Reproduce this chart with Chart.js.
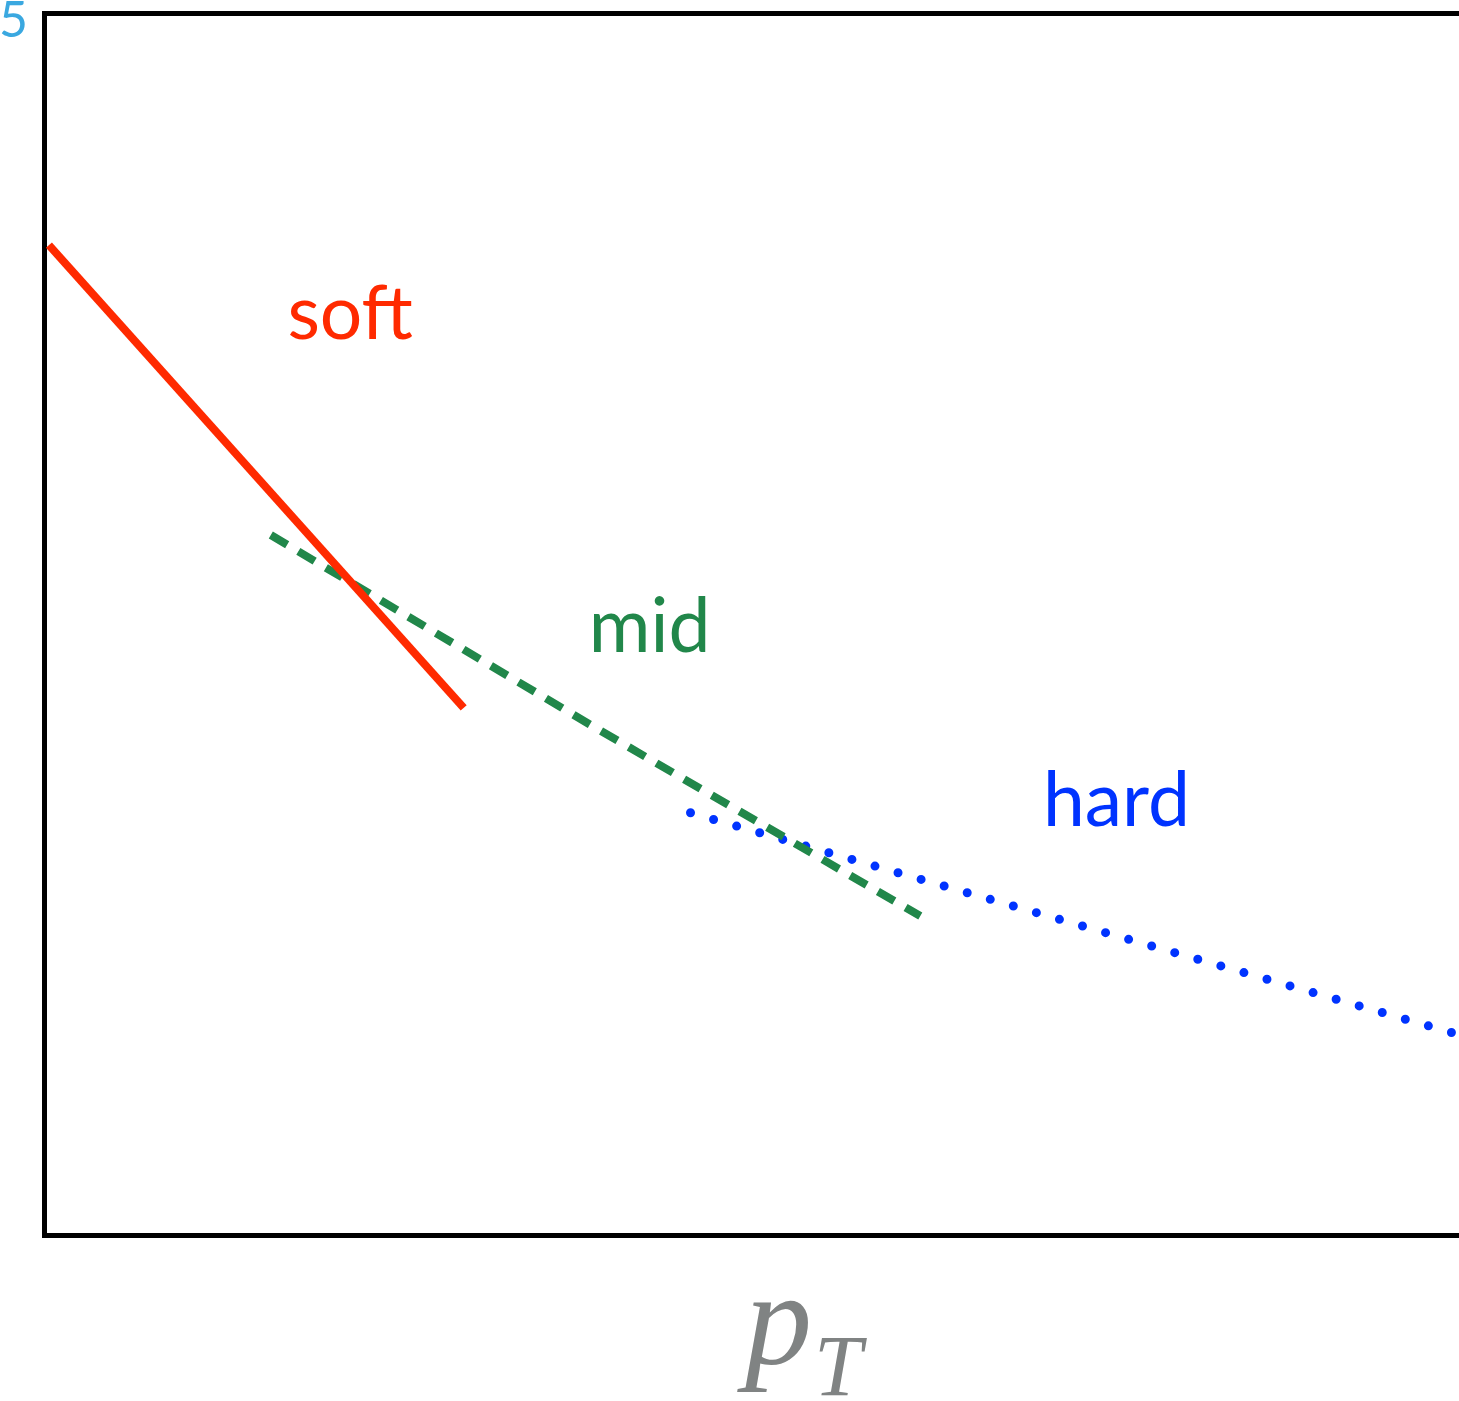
<!DOCTYPE html>
<html>
<head>
<meta charset="utf-8">
<script src="https://cdn.jsdelivr.net/npm/chart.js@4/dist/chart.umd.min.js"></script>
<style>
  body { margin: 0; background: #fff; overflow: hidden; }
  #wrap { width: 1459px; height: 1401px; }
</style>
</head>
<body>
<div id="wrap"><canvas id="pt" width="1459" height="1401"></canvas></div>
<script>
// curves in arbitrary units (x: p_T, y: spectrum), 0..100 on both axes
var softX = [0.35, 29.66];
var softY = [81.0, 43.13];
var midX = [16.03, 38.98, 61.93];
var midY = [57.28, 41.5, 26.1];
var hardX = [45.69, 100];
var hardY = [34.55, 16.39];

var labels = [
    {text: "soft", x: 17.2, y: 73.3, color: "#ff2a00"},
    {text: "mid", x: 38.5, y: 47.7, color: "#21874a"},
    {text: "hard", x: 70.6, y: 33.5, color: "#0033ff"}
];

function toPoints(xs, ys) {
    var pts = [];
    for (let i = 0; i < xs.length; i++) {
        pts.push({x: xs[i], y: ys[i]});
    }
    return pts;
}

var textPlugin = {
    id: "textPlugin",
    afterDraw: function(chart) {
        var ctx = chart.ctx;
        var xs = chart.scales.x, ys = chart.scales.y;
        ctx.save();
        ctx.textBaseline = "alphabetic";
        ctx.textAlign = "left";
        ctx.font = "75px Lato";
        for (let i = 0; i < labels.length; i++) {
            ctx.fillStyle = labels[i].color;
            ctx.fillText(labels[i].text, xs.getPixelForValue(labels[i].x), ys.getPixelForValue(labels[i].y));
        }
        // cut-off corner label
        ctx.fillStyle = "#3aa8e0";
        ctx.font = "50px Lato";
        ctx.fillText("5", -1, 37);
        // axis title p_T
        ctx.fillStyle = "#808383";
        ctx.font = "italic 134px 'Liberation Serif'";
        ctx.fillText("p", 745, 1364);
        ctx.font = "italic 86px 'Liberation Serif'";
        ctx.fillText("T", 814, 1395);
        ctx.restore();
    }
};

var ptChart = new Chart(document.getElementById("pt").getContext("2d"), {
    type: "line",
    data: {
        datasets: [
            {
                label: "soft",
                data: toPoints(softX, softY),
                borderColor: "#ff2a00",
                borderWidth: 8,
                pointRadius: 0
            },
            {
                label: "mid",
                data: toPoints(midX, midY),
                borderColor: "#21874a",
                borderWidth: 8,
                borderDash: [19, 13],
                pointRadius: 0
            },
            {
                label: "hard",
                data: toPoints(hardX, hardY),
                borderColor: "#0033ff",
                borderWidth: 9,
                borderDash: [0, 24],
                borderCapStyle: "round",
                pointRadius: 0
            }
        ]
    },
    options: {
        responsive: false,
        animation: false,
        layout: { padding: {left: 36, top: 5, right: 0, bottom: 158} },
        plugins: { legend: {display: false}, tooltip: {enabled: false} },
        scales: {
            x: {
                type: "linear", min: 0, max: 100,
                ticks: {display: false},
                grid: {display: false},
                border: {display: true, color: "#000", width: 5}
            },
            xTop: {
                type: "linear", position: "top", min: 0, max: 100,
                ticks: {display: false},
                grid: {display: false},
                border: {display: true, color: "#000", width: 5}
            },
            y: {
                type: "linear", min: 0, max: 100,
                ticks: {display: false},
                grid: {display: false},
                border: {display: true, color: "#000", width: 5}
            }
        }
    },
    plugins: [textPlugin]
});
</script>
</body>
</html>
